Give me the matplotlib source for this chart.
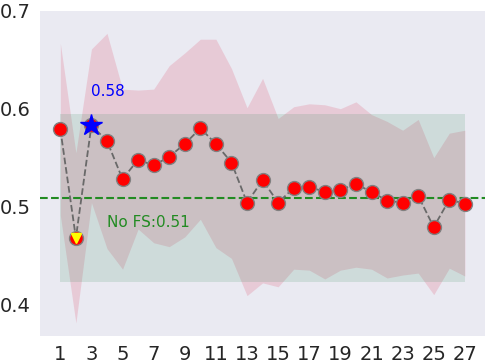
import numpy as np
import matplotlib
matplotlib.use("Agg")
import matplotlib.pyplot as plt
import seaborn as sns

n_features = list(range(1, 28))
scores = [0.579, 0.468, 0.583, 0.567, 0.528, 0.548, 0.542, 0.551, 0.564, 0.580,
          0.564, 0.545, 0.504, 0.527, 0.504, 0.519, 0.520, 0.515, 0.517, 0.523,
          0.515, 0.506, 0.504, 0.511, 0.479, 0.507, 0.503]
upper = [0.667, 0.555, 0.661, 0.677, 0.620, 0.619, 0.620, 0.644, 0.657, 0.671,
         0.671, 0.641, 0.601, 0.631, 0.590, 0.602, 0.605, 0.604, 0.600, 0.607,
         0.594, 0.587, 0.578, 0.589, 0.550, 0.575, 0.578]
lower = [0.491, 0.381, 0.504, 0.457, 0.436, 0.477, 0.463, 0.459, 0.469, 0.487,
         0.458, 0.447, 0.409, 0.422, 0.418, 0.436, 0.435, 0.426, 0.435, 0.438,
         0.436, 0.427, 0.430, 0.432, 0.410, 0.437, 0.429]
baseline = 0.509
baseline_std = 0.086
xticks = list(range(1, 28, 2))

sns.set_style("dark")
plt.rcParams['font.family'] = ['DejaVu Sans']

fig, ax = plt.subplots(figsize=(4.89, 3.61), dpi=100)
fig.subplots_adjust(left=0.082, right=0.992, top=0.970, bottom=0.070)

# feature selection band
ax.fill_between(n_features, lower, upper, color="crimson", alpha=0.15, linewidth=0)
# no feature selection band
ax.fill_between(n_features, baseline - baseline_std, baseline + baseline_std,
                color="seagreen", alpha=0.15, linewidth=0)
ax.axhline(baseline, color="forestgreen", linestyle="--", linewidth=1.5)
ax.text(4, baseline - 0.03, f"No FS:{baseline:.2f}", color="forestgreen", fontsize=11)

ax.plot(n_features, scores, linestyle="--", color="dimgray", marker="o",
        markersize=10, markerfacecolor="red", markeredgecolor="gray", linewidth=1.3)

best = int(np.argmax(scores))
worst = int(np.argmin(scores))
ax.plot(n_features[best], scores[best], marker="*", color="blue", markersize=16)
ax.plot(n_features[worst], scores[worst], marker="v", color="yellow", markersize=7)
ax.text(n_features[best], scores[best] + 0.03, f"{scores[best]:.2f}", color="blue", fontsize=11)

ax.set_xticks(xticks)
ax.set_ylim(0.368, 0.7)
ax.set_yticks([0.4, 0.5, 0.6, 0.7])
ax.tick_params(labelsize=14)
for s in ax.spines.values():
    s.set_visible(False)

fig.savefig("out.png", dpi=100)
